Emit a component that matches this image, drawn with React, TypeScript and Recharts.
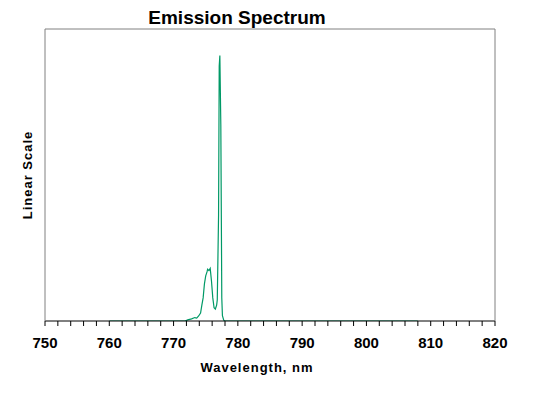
import React from 'react';
import { LineChart, Line, XAxis, YAxis } from 'recharts';

// Wavelength samples (nm) and relative intensity
const wavelengths = [
  760, 771.8, 772.2, 772.8, 773.3, 773.6, 773.9, 774.2, 774.4, 774.6, 774.8,
  775.0, 775.2, 775.3, 775.5, 775.7, 775.9, 776.1, 776.3, 776.5, 776.7, 776.8,
  777.0, 777.1, 777.2, 777.35, 777.5, 777.6, 777.8, 778.0, 808,
];
const intensities = [
  0, 0, 0.004, 0.008, 0.013, 0.011, 0.019, 0.03, 0.06, 0.087, 0.14,
  0.17, 0.185, 0.195, 0.19, 0.198, 0.15, 0.087, 0.05, 0.045, 0.06, 0.08,
  0.4, 0.96, 1.0, 0.74, 0.087, 0.02, 0.003, 0, 0,
];

const xTicks = [
  750, 752, 754, 756, 758, 760, 762, 764, 766, 768, 770, 772, 774, 776, 778,
  780, 782, 784, 786, 788, 790, 792, 794, 796, 798, 800, 802, 804, 806, 808,
  810, 812, 814, 816, 818, 820,
];
const xLabels = [750, 760, 770, 780, 790, 800, 810, 820];

const data = wavelengths.map((w, i) => ({ nm: w, value: intensities[i] }));

const lineColor = '#009966';
const frameColor = '#808080';
const font = 'Arial, "Liberation Sans", sans-serif';

const App: React.FC = () => {
  return (
    <div style={{ position: 'absolute', left: 0, top: 0, width: 549, height: 394, background: '#fff', fontFamily: font }}>
      <div style={{ position: 'absolute', left: 0, width: 474, top: 7, textAlign: 'center', fontSize: 19, fontWeight: 'bold', color: '#000' }}>
        Emission Spectrum
      </div>
      <div style={{ position: 'absolute', left: 0, width: 514, top: 360, textAlign: 'center', fontSize: 13, fontWeight: 'bold', letterSpacing: 1, color: '#000' }}>
        Wavelength, nm
      </div>
      <div
        style={{
          position: 'absolute', left: 28, top: 175, width: 200, marginLeft: -100, marginTop: -9,
          textAlign: 'center', fontSize: 13, fontWeight: 'bold', letterSpacing: 1, color: '#000',
          transform: 'rotate(-90deg)', lineHeight: '18px',
        }}
      >
        Linear Scale
      </div>
      <LineChart width={549} height={394} data={data} margin={{ top: 28, right: 53, left: 44, bottom: 43 }} style={{ position: 'absolute', left: 0, top: 0 }}>
        <XAxis
          dataKey="nm"
          type="number"
          domain={[750, 820]}
          ticks={xTicks}
          interval={0}
          tickFormatter={(v: number) => (xLabels.includes(v) ? String(v) : '')}
          height={30}
          tickSize={5}
          tickMargin={11}
          stroke="#000"
          tick={{ fill: '#000', fontSize: 15, fontWeight: 'bold', fontFamily: font }}
          allowDataOverflow
        />
        <XAxis xAxisId="top" orientation="top" dataKey="nm" type="number" domain={[750, 820]} height={1} tick={false} tickLine={false} axisLine={{ stroke: frameColor }} />
        <YAxis domain={[0, 1.1]} width={1} tick={false} tickLine={false} axisLine={{ stroke: frameColor }} allowDataOverflow />
        <YAxis yAxisId="right" orientation="right" domain={[0, 1.1]} width={1} tick={false} tickLine={false} axisLine={{ stroke: frameColor }} />
        <Line xAxisId={0} yAxisId={0} type="linear" dataKey="value" stroke={lineColor} strokeWidth={1.2} dot={false} activeDot={false} isAnimationActive={false} />
      </LineChart>
    </div>
  );
};

export default App;
